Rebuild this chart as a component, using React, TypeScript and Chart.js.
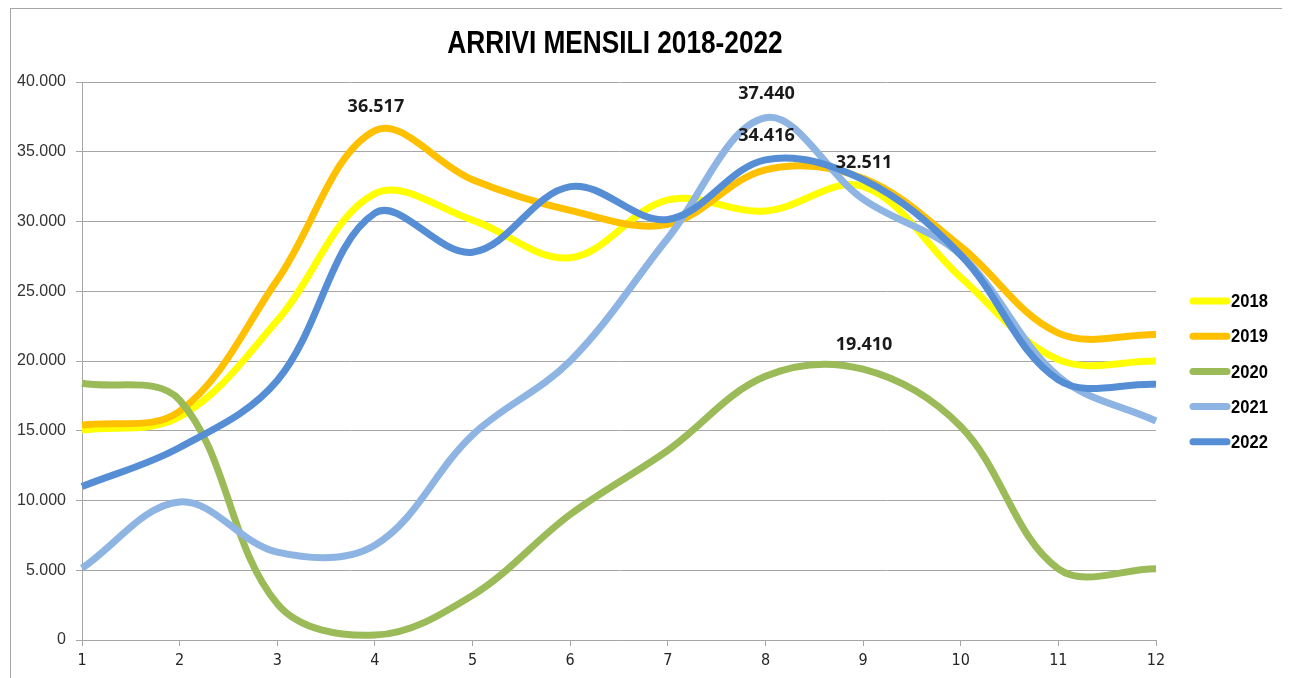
import React, { useEffect, useRef } from "react";
import { Chart, registerables } from "chart.js";

Chart.register(...registerables);

const TITLE = "ARRIVI MENSILI 2018-2022";
const MONTHS = ["1", "2", "3", "4", "5", "6", "7", "8", "9", "10", "11", "12"];
const SERIES_NAMES = ["2018", "2019", "2020", "2021", "2022"];
const SERIES_COLORS = ["#FFFF00", "#FFC000", "#9BBB59", "#8DB4E2", "#558ED5"];

const V2018 = [15050, 16000, 22900, 32000, 30100, 27400, 31550, 30750, 32511, 26000, 20100, 20000];
const V2019 = [15400, 16400, 25800, 36517, 33000, 30800, 29800, 33700, 33100, 28200, 22000, 21900];
const V2020 = [18400, 17200, 2600, 350, 3200, 9000, 13600, 18900, 19410, 15300, 5100, 5100];
const V2021 = [5150, 9900, 6300, 6800, 14700, 20000, 28800, 37440, 31600, 27600, 18900, 15700];
const V2022 = [11000, 13800, 18600, 30600, 27800, 32500, 30150, 34416, 33000, 27600, 18650, 18330];
const SERIES_VALUES = [V2018, V2019, V2020, V2021, V2022];

// [series index, month index] of the labelled points
const LABELLED_POINTS: [number, number][] = [
  [1, 3],
  [3, 7],
  [4, 7],
  [0, 8],
  [2, 8],
];

const Y_MIN = 0;
const Y_MAX = 40000;
const Y_STEP = 5000;

function fmt(v: number): string {
  return String(Math.round(v)).replace(/\B(?=(\d{3})+(?!\d))/g, ".");
}

const overlayPlugin = {
  id: "overlay",
  afterDraw(chart: any) {
    const ctx = chart.ctx;
    const area = chart.chartArea;
    // title
    ctx.save();
    ctx.fillStyle = "#000000";
    ctx.font = "bold 32px 'Liberation Sans', Arial, sans-serif";
    ctx.textAlign = "center";
    ctx.textBaseline = "middle";
    ctx.translate((area.left + area.right) / 2 - 4, 35);
    ctx.scale(0.82, 1);
    ctx.fillText(TITLE, 0, 0);
    ctx.restore();

    // data labels
    ctx.save();
    ctx.fillStyle = "#1a1a1a";
    ctx.font = "bold 18px 'Open Sans', 'Liberation Sans', sans-serif";
    ctx.textAlign = "center";
    ctx.textBaseline = "middle";
    LABELLED_POINTS.forEach(([s, m]) => {
      const meta = chart.getDatasetMeta(s);
      const pt = meta.data[m];
      if (!pt) return;
      ctx.fillText(fmt(SERIES_VALUES[s][m]), pt.x + 1, pt.y - 24);
    });
    ctx.restore();

    // legend
    ctx.save();
    const lx0 = area.right + 34;
    const lx1 = area.right + 74;
    const ly0 = 292;
    const gap = 35.2;
    ctx.lineCap = "round";
    ctx.lineWidth = 7;
    ctx.font = "bold 18px 'Liberation Sans', Arial, sans-serif";
    ctx.textAlign = "left";
    ctx.textBaseline = "middle";
    SERIES_NAMES.forEach((name, i) => {
      const y = ly0 + i * gap;
      ctx.strokeStyle = SERIES_COLORS[i];
      ctx.beginPath();
      ctx.moveTo(lx0 + 3, y);
      ctx.lineTo(lx1 - 3, y);
      ctx.stroke();
      ctx.fillStyle = "#000000";
      ctx.save();
      ctx.translate(lx1 + 1, y + 1);
      ctx.scale(0.92, 1.05);
      ctx.fillText(name, 0, 0);
      ctx.restore();
    });
    ctx.restore();
  },
};

export default function App() {
  const ref = useRef<HTMLCanvasElement | null>(null);

  useEffect(() => {
    if (!ref.current) return;
    const chart = new Chart(ref.current, {
      type: "line",
      data: {
        labels: MONTHS,
        datasets: SERIES_NAMES.map((name, i) => ({
          label: name,
          data: SERIES_VALUES[i],
          borderColor: SERIES_COLORS[i],
          backgroundColor: SERIES_COLORS[i],
          borderWidth: 7,
          pointRadius: 0,
          pointHoverRadius: 0,
          tension: 0.36,
          fill: false,
          borderCapStyle: "butt",
          borderJoinStyle: "round",
          order: SERIES_NAMES.length - i,
        })),
      },
      options: {
        responsive: false,
        animation: false,
        layout: { padding: { left: 0, right: 128, top: 73, bottom: 0 } },
        plugins: {
          legend: { display: false },
          title: { display: false },
          tooltip: { enabled: false },
        },
        scales: {
          x: {
            type: "category",
            offset: false,
            grid: {
              drawOnChartArea: false,
              drawTicks: true,
              tickLength: 6,
              color: "#a6a6a6",
            },
            border: { display: true, color: "#a6a6a6", width: 1 },
            ticks: {
              color: "#262626",
              padding: 5,
              maxRotation: 0,
              autoSkip: false,
              font: { family: "'Liberation Sans Narrow', 'DejaVu Sans Condensed', 'Liberation Sans', sans-serif", size: 16 },
            },
            afterFit: (s: any) => {
              s.height = 49;
            },
          },
          y: {
            min: Y_MIN,
            max: Y_MAX,
            grid: {
              color: "#a6a6a6",
              lineWidth: 1,
              drawTicks: true,
              tickLength: 6,
            },
            border: { display: true, color: "#a6a6a6", width: 1 },
            ticks: {
              stepSize: Y_STEP,
              color: "#333333",
              padding: 10,
              font: { family: "'Liberation Sans', Arial, sans-serif", size: 16 },
              callback: (v: any) => fmt(Number(v)),
            },
            afterFit: (s: any) => {
              s.width = 71;
            },
          },
        },
      },
      plugins: [overlayPlugin],
    });
    return () => chart.destroy();
  }, []);

  return (
    <div
      style={{
        marginLeft: 2,
        width: 1273,
        height: 690,
        border: "1px solid #a6a6a6",
        background: "#ffffff",
        position: "relative",
        overflow: "hidden",
      }}
    >
      <canvas ref={ref} width={1273} height={680} style={{ display: "block", width: 1273, height: 680 }} />
    </div>
  );
}
